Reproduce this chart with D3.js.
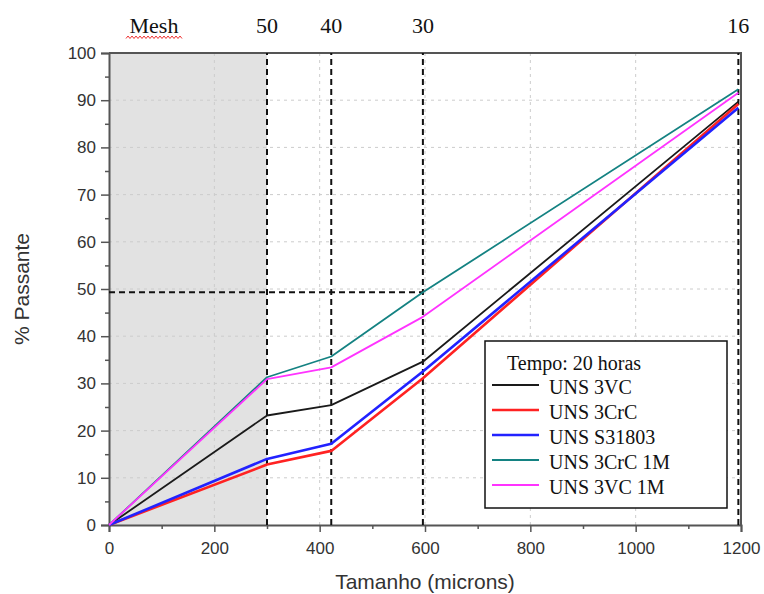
<!DOCTYPE html>
<html>
<head>
<meta charset="utf-8">
<script src="https://cdn.jsdelivr.net/npm/d3@7"></script>
<style>
  body { margin: 0; background: #fff; }
  svg { display: block; }
</style>
</head>
<body>
<div id="chart"></div>
<script>
// sieve openings (microns) where curves are sampled
const sizes = [0, 300, 422, 596, 1195];
const meshLabels = ['50', '40', '30', '16'];
const meshSizes = [300, 422, 596, 1195];

const seriesNames = ['UNS 3VC', 'UNS 3CrC', 'UNS S31803', 'UNS 3CrC 1M', 'UNS 3VC 1M'];
const vc = [0, 23.2, 25.4, 34.6, 89.7];
const crc = [0, 12.8, 15.7, 31.1, 89.2];
const s31803 = [0, 14.0, 17.2, 32.5, 88.4];
const crc1m = [0, 31.3, 35.7, 49.3, 92.3];
const vc1m = [0, 30.9, 33.4, 44.1, 91.6];

const xTicks = [0, 200, 400, 600, 800, 1000, 1200];
const yTicks = [0, 10, 20, 30, 40, 50, 60, 70, 80, 90, 100];

const colors = ['#1a1a1a', '#ff2222', '#2222ff', '#148282', '#ff33ff'];
const widths = [1.8, 2.6, 2.6, 1.8, 1.8];
const seriesValues = [vc, crc, s31803, crc1m, vc1m];

const width = 764, height = 594;
const margin = { top: 53, right: 23, bottom: 69, left: 109 };

const svg = d3.select('#chart').append('svg')
  .attr('width', width)
  .attr('height', height);

const x = d3.scaleLinear().domain([0, 1200]).range([margin.left, width - margin.right]);
const y = d3.scaleLinear().domain([0, 100]).range([height - margin.bottom, margin.top]);

// shaded area below 50 mesh
svg.append('rect')
  .attr('x', x(0)).attr('y', y(100))
  .attr('width', x(300) - x(0)).attr('height', y(0) - y(100))
  .attr('fill', '#e2e2e2');

// grid
svg.append('g').selectAll('line').data(xTicks.slice(1, -1)).join('line')
  .attr('x1', d => x(d)).attr('x2', d => x(d))
  .attr('y1', y(0)).attr('y2', y(100))
  .attr('stroke', '#cccccc').attr('stroke-dasharray', '3,4');
svg.append('g').selectAll('line').data(yTicks.slice(1, -1)).join('line')
  .attr('x1', x(0)).attr('x2', x(1200))
  .attr('y1', d => y(d)).attr('y2', d => y(d))
  .attr('stroke', '#cccccc').attr('stroke-dasharray', '3,4');

// axes
const axisColor = '#555';
const xAxis = svg.append('g')
  .attr('transform', `translate(0,${y(0)})`)
  .call(d3.axisBottom(x).tickValues(d3.range(0, 1201, 100)).tickSize(7).tickPadding(4)
    .tickFormat(d => d % 200 === 0 ? d : ''));
const yAxis = svg.append('g')
  .attr('transform', `translate(${x(0)},0)`)
  .call(d3.axisLeft(y).tickValues(d3.range(0, 101, 5)).tickSize(8).tickPadding(5)
    .tickFormat(d => d % 10 === 0 ? d : ''));

[xAxis, yAxis].forEach(a => {
  a.select('.domain').attr('stroke', axisColor).attr('stroke-width', 2);
  a.selectAll('.tick line').attr('stroke', axisColor).attr('stroke-width', 1.5);
  a.selectAll('.tick text')
    .attr('fill', '#333')
    .style('font-family', 'Liberation Sans, Arial, sans-serif')
    .style('font-size', '17px');
});
xAxis.selectAll('.tick text').attr('dy', '1.05em');
yAxis.selectAll('.tick').filter(d => d % 10 !== 0).select('line').attr('x2', -4);
xAxis.selectAll('.tick').filter(d => d % 200 !== 0).select('line').attr('y2', 4);

// top and right frame
svg.append('path')
  .attr('d', `M${x(0)},${y(100)}H${x(1200)}V${y(0)}`)
  .attr('fill', 'none').attr('stroke', axisColor).attr('stroke-width', 2);

// reference dashed lines
svg.append('g').selectAll('line').data(meshSizes).join('line')
  .attr('x1', d => x(d)).attr('x2', d => x(d))
  .attr('y1', y(0)).attr('y2', y(100))
  .attr('stroke', '#111').attr('stroke-width', 2).attr('stroke-dasharray', '6,4');
svg.append('line')
  .attr('x1', x(0)).attr('x2', x(596))
  .attr('y1', y(49.3)).attr('y2', y(49.3))
  .attr('stroke', '#111').attr('stroke-width', 2).attr('stroke-dasharray', '6,4');

// series lines
const line = d3.line().x((d, i) => x(sizes[i])).y(d => y(d));
svg.append('g').selectAll('path').data(seriesValues).join('path')
  .attr('d', d => line(d))
  .attr('fill', 'none')
  .attr('stroke', (d, i) => colors[i])
  .attr('stroke-width', (d, i) => widths[i])
  .attr('stroke-linejoin', 'round');

// mesh labels on top
const serif = 'Liberation Serif, Times New Roman, serif';
svg.append('g').selectAll('text').data(meshSizes).join('text')
  .attr('x', d => x(d)).attr('y', 33)
  .attr('text-anchor', 'middle')
  .style('font-family', serif).style('font-size', '22px')
  .attr('fill', '#111')
  .text((d, i) => meshLabels[i]);
svg.append('text')
  .attr('x', 154).attr('y', 33)
  .attr('text-anchor', 'middle')
  .style('font-family', serif).style('font-size', '22px')
  .attr('fill', '#111')
  .text('Mesh');
// spellcheck squiggle under "Mesh"
const squiggle = d3.range(0, 58, 2).map((d, i) => [126 + d, i % 2 ? 36 : 38.5]);
svg.append('path')
  .attr('d', d3.line()(squiggle))
  .attr('fill', 'none').attr('stroke', '#e33').attr('stroke-width', 1);

// axis titles
const sans = 'Liberation Sans, Arial, sans-serif';
svg.append('text')
  .attr('transform', `translate(29,${(y(0) + y(100)) / 2}) rotate(-90)`)
  .attr('text-anchor', 'middle')
  .style('font-family', sans).style('font-size', '21px')
  .attr('fill', '#333')
  .text('% Passante');
svg.append('text')
  .attr('x', 425).attr('y', 589)
  .attr('text-anchor', 'middle')
  .style('font-family', sans).style('font-size', '21px')
  .attr('fill', '#333')
  .text('Tamanho (microns)');

// legend
const legend = svg.append('g');
legend.append('rect')
  .attr('x', 485).attr('y', 341).attr('width', 242).attr('height', 167)
  .attr('fill', '#fff').attr('stroke', '#111').attr('stroke-width', 1.5);
legend.append('text')
  .attr('x', 507).attr('y', 370)
  .style('font-family', serif).style('font-size', '20px')
  .attr('fill', '#111')
  .text('Tempo: 20 horas');
const rows = legend.selectAll('g.row').data(seriesNames).join('g')
  .attr('transform', (d, i) => `translate(0,${385 + i * 25})`);
rows.append('line')
  .attr('x1', 492).attr('x2', 539)
  .attr('stroke', (d, i) => colors[i])
  .attr('stroke-width', (d, i) => widths[i]);
rows.append('text')
  .attr('x', 549).attr('y', 9)
  .style('font-family', serif).style('font-size', '20px')
  .attr('fill', '#111')
  .text(d => d);
</script>
</body>
</html>
